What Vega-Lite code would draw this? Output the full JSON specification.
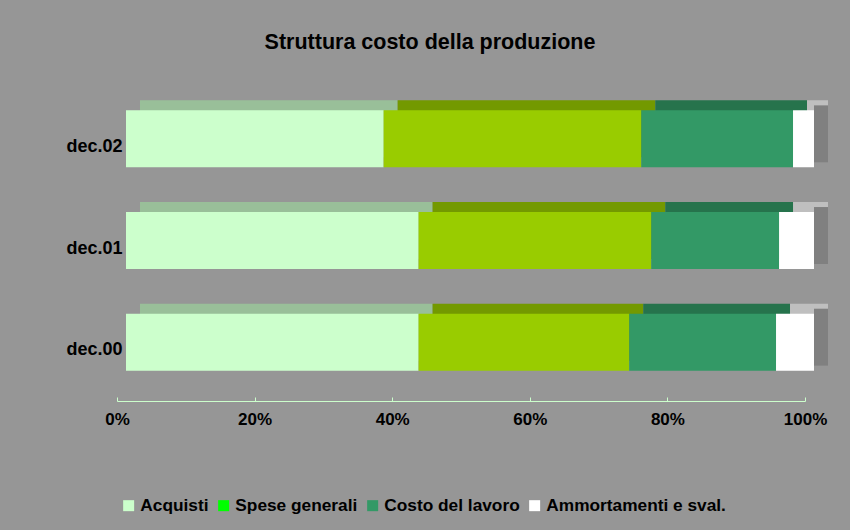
{
  "$schema": "https://vega.github.io/schema/vega-lite/v6.json",
  "width": 688,
  "height": 305,
  "autosize": {"type": "none"},
  "padding": {"left": 117, "top": 96, "right": 45, "bottom": 129},
  "background": "#969696",
  "config": {"view": {"stroke": null}, "font": "Liberation Sans"},
  "title": {"text": "Struttura costo della produzione", "fontSize": 21.5, "fontWeight": "bold", "color": "#000000", "font": "Liberation Sans", "anchor": "middle", "frame": "group", "dx": -31, "offset": 43},
  "data": {"values": [
    {"d": "dec.02", "c": "Acquisti", "v": 37.45},
    {"d": "dec.02", "c": "Spese generali", "v": 37.45},
    {"d": "dec.02", "c": "Costo del lavoro", "v": 22.06},
    {"d": "dec.02", "c": "Ammortamenti e sval.", "v": 3.05},
    {"d": "dec.01", "c": "Acquisti", "v": 42.53},
    {"d": "dec.01", "c": "Spese generali", "v": 33.82},
    {"d": "dec.01", "c": "Costo del lavoro", "v": 18.58},
    {"d": "dec.01", "c": "Ammortamenti e sval.", "v": 5.08},
    {"d": "dec.00", "c": "Acquisti", "v": 42.53},
    {"d": "dec.00", "c": "Spese generali", "v": 30.62},
    {"d": "dec.00", "c": "Costo del lavoro", "v": 21.34},
    {"d": "dec.00", "c": "Ammortamenti e sval.", "v": 5.52}
  ]},
  "transform": [{"calculate": "indexof(['Acquisti', 'Spese generali', 'Costo del lavoro', 'Ammortamenti e sval.'], datum.c)", "as": "ord"}],
  "encoding": {
    "y": {"field": "d", "type": "nominal", "sort": ["dec.02", "dec.01", "dec.00"],
      "scale": {"paddingInner": 0, "paddingOuter": 0},
      "axis": {"title": null, "ticks": false, "domain": false, "labelPadding": -5, "labelFontSize": 18, "labelFontWeight": "bold", "labelColor": "#000000", "labelFont": "Liberation Sans"}}
  },
  "layer": [
    {
      "mark": {"type": "bar", "opacity": 0, "height": {"band": 0.56}},
      "encoding": {
        "x": {"field": "v", "type": "quantitative", "stack": "normalize", "scale": {"domain": [0, 1]},
          "axis": {"title": null, "values": [0, 0.2, 0.4, 0.6, 0.8, 1], "format": ".0%", "grid": false, "labelFlush": false, "labelOverlap": false, "domainColor": "#CCFFCC", "tickColor": "#CCFFCC", "tickSize": -4, "labelPadding": 14, "labelFontSize": 17, "labelFontWeight": "bold", "labelColor": "#000000", "labelFont": "Liberation Sans"}},
        "order": {"field": "ord", "type": "quantitative"},
        "color": {"field": "c", "type": "nominal",
          "scale": {"domain": ["Acquisti", "Spese generali", "Costo del lavoro", "Ammortamenti e sval."], "range": ["#CCFFCC", "#00FF00", "#339966", "#FFFFFF"]},
          "legend": {"title": null, "orient": "none", "legendX": 3, "legendY": 401, "direction": "horizontal", "padding": 0, "symbolType": "square", "symbolSize": 121, "symbolStrokeWidth": 0, "symbolOpacity": 1, "labelFontSize": 17.3, "labelFontWeight": "bold", "labelColor": "#000000", "labelFont": "Liberation Sans", "labelLimit": 0, "labelOffset": 3, "columnPadding": 6}}
      }
    },
    {
      "mark": {"type": "bar", "xOffset": 23, "x2Offset": 23, "yOffset": -18, "height": {"band": 0.56}},
      "encoding": {
        "x": {"field": "v", "type": "quantitative", "stack": "normalize"},
        "order": {"field": "ord", "type": "quantitative"},
        "color": {"field": "c", "type": "nominal",
          "scale": {"domain": ["Acquisti", "Spese generali", "Costo del lavoro", "Ammortamenti e sval."], "range": ["#99BF99", "#739900", "#26734C", "#BFBFBF"]},
          "legend": null}
      }
    },
    {
      "transform": [{"filter": "datum.c === 'Ammortamenti e sval.'"}],
      "mark": {"type": "bar", "xOffset": 9, "x2Offset": 23, "yOffset": -13, "height": {"band": 0.56}, "color": "#808080"},
      "encoding": {"x": {"datum": 1}, "x2": {"datum": 1}}
    },
    {
      "mark": {"type": "bar", "xOffset": 9, "x2Offset": 9, "yOffset": -8, "height": {"band": 0.56}},
      "encoding": {
        "x": {"field": "v", "type": "quantitative", "stack": "normalize"},
        "order": {"field": "ord", "type": "quantitative"},
        "color": {"field": "c", "type": "nominal",
          "scale": {"domain": ["Acquisti", "Spese generali", "Costo del lavoro", "Ammortamenti e sval."], "range": ["#CCFFCC", "#99CC00", "#339966", "#FFFFFF"]},
          "legend": null}
      }
    }
  ],
  "resolve": {"scale": {"color": "independent"}}
}
